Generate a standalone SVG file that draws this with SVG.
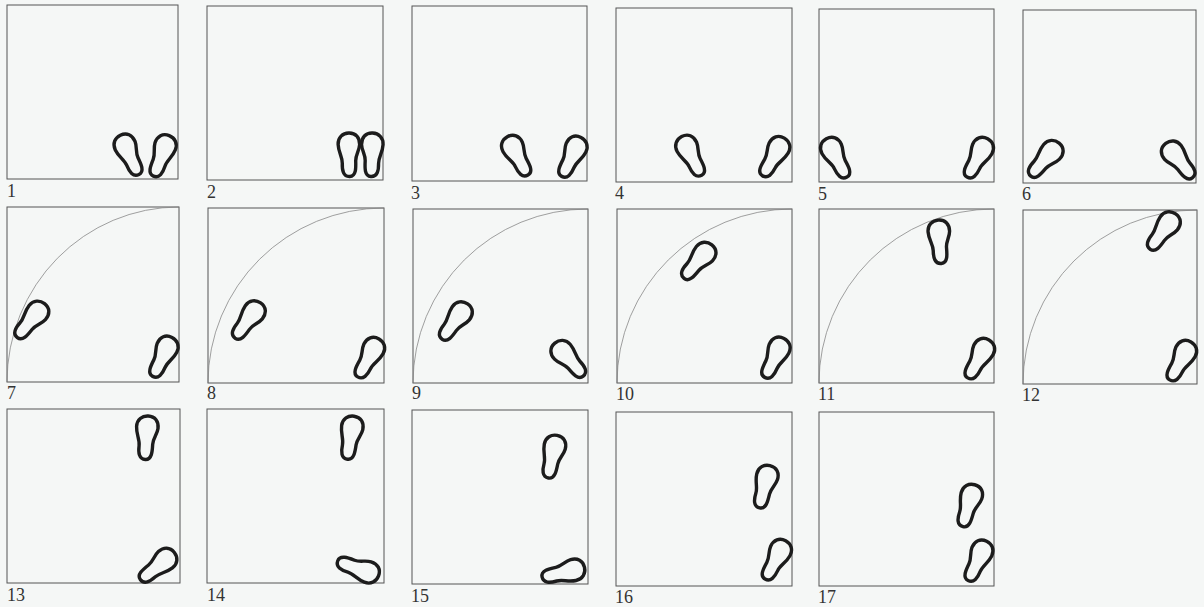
<svg xmlns="http://www.w3.org/2000/svg" xmlns:xlink="http://www.w3.org/1999/xlink" width="1204" height="607" viewBox="0 0 1204 607">
<style>
.bg{fill:#f5f7f6}
.box{fill:none;stroke:#555;stroke-width:1}
.arc{fill:none;stroke:#888;stroke-width:0.8}
.lbl{font-family:"Liberation Serif",serif;font-size:18px;fill:#333}
.ft{fill:none;stroke:#1c1c1c;stroke-width:3.4;stroke-linejoin:round}
</style>
<defs>
<path id="L" class="ft" d="M 0,-22 C 7,-22 11,-17 10.5,-10 C 10,-4 6,0 6,6 C 6,13 6,21.5 -0.5,21.5 C -7,21.5 -8,15 -7.5,8 C -7,2 -11,-3 -11,-11 C -11,-18 -6,-22 0,-22 Z"/>
</defs>
<rect class="bg" x="0" y="0" width="1204" height="607"/>

<g id="p1"><rect class="box" x="7" y="5" width="171" height="174"/>
<use href="#L" transform="translate(130,155) rotate(-26)"/>
<use href="#L" transform="translate(161,156) rotate(22) scale(-1,1)"/>
<text class="lbl" x="7" y="197">1</text></g>

<g id="p2"><rect class="box" x="207" y="6" width="176" height="174"/>
<use href="#L" transform="translate(349.5,155) rotate(-2)"/>
<use href="#L" transform="translate(371.5,155) rotate(3) scale(-1,1)"/>
<text class="lbl" x="207" y="198">2</text></g>

<g id="p3"><rect class="box" x="412" y="6" width="175" height="175"/>
<use href="#L" transform="translate(518,156) rotate(-29)"/>
<use href="#L" transform="translate(571,157) rotate(27) scale(-1,1)"/>
<text class="lbl" x="411" y="199">3</text></g>

<g id="p4"><rect class="box" x="616" y="8" width="176" height="174"/>
<use href="#L" transform="translate(692,156) rotate(-28)"/>
<use href="#L" transform="translate(773,157) rotate(31) scale(-1,1)"/>
<text class="lbl" x="615" y="199">4</text></g>

<g id="p5"><rect class="box" x="819" y="9" width="175" height="173"/>
<use href="#L" transform="translate(837,158) rotate(-29)"/>
<use href="#L" transform="translate(977,158) rotate(29) scale(-1,1)"/>
<text class="lbl" x="818" y="200">5</text></g>

<g id="p6"><rect class="box" x="1023" y="10" width="173" height="173"/>
<use href="#L" transform="translate(1045,160) rotate(40)"/>
<use href="#L" transform="translate(1179,161) rotate(-37) scale(-1,1)"/>
<text class="lbl" x="1022" y="200">6</text></g>

<g id="p7"><rect class="box" x="7" y="207" width="172" height="175"/>
<path class="arc" d="M 7,382 A 172 175 0 0 1 179,207"/>
<use href="#L" transform="translate(31,321) rotate(38)"/>
<use href="#L" transform="translate(162,357) rotate(27) scale(-1,1)"/>
<text class="lbl" x="7" y="399">7</text></g>

<g id="p8"><rect class="box" x="208" y="208" width="176" height="175"/>
<path class="arc" d="M 208,383 A 176 175 0 0 1 384,208"/>
<use href="#L" transform="translate(248,321) rotate(35)"/>
<use href="#L" transform="translate(368,358) rotate(30) scale(-1,1)"/>
<text class="lbl" x="207" y="399">8</text></g>

<g id="p9"><rect class="box" x="413" y="209" width="175" height="174"/>
<path class="arc" d="M 413,383 A 175 174 0 0 1 588,209"/>
<use href="#L" transform="translate(455,322) rotate(35)"/>
<use href="#L" transform="translate(569,360) rotate(-40) scale(-1,1)"/>
<text class="lbl" x="412" y="399">9</text></g>

<g id="p10"><rect class="box" x="617" y="209" width="175" height="174"/>
<path class="arc" d="M 617,383 A 175 174 0 0 1 792,209"/>
<use href="#L" transform="translate(698,262) rotate(39)"/>
<use href="#L" transform="translate(774,358) rotate(27) scale(-1,1)"/>
<text class="lbl" x="616" y="400">10</text></g>

<g id="p11"><rect class="box" x="819" y="209" width="175" height="174"/>
<path class="arc" d="M 819,383 A 175 174 0 0 1 994,209"/>
<use href="#L" transform="translate(940,242) rotate(-5)"/>
<use href="#L" transform="translate(978,359) rotate(30) scale(-1,1)"/>
<text class="lbl" x="818" y="400">11</text></g>

<g id="p12"><rect class="box" x="1023" y="210" width="174" height="174"/>
<path class="arc" d="M 1023,384 A 174 174 0 0 1 1197,210"/>
<use href="#L" transform="translate(1163,232) rotate(35)"/>
<use href="#L" transform="translate(1180,361) rotate(30) scale(-1,1)"/>
<text class="lbl" x="1022" y="401">12</text></g>

<g id="p13"><rect class="box" x="7" y="409" width="173" height="174"/>
<use href="#L" transform="translate(147,438) rotate(3)"/>
<use href="#L" transform="translate(157,566) rotate(52) scale(-1,1)"/>
<text class="lbl" x="7" y="601">13</text></g>

<g id="p14"><rect class="box" x="207" y="409" width="177" height="174"/>
<use href="#L" transform="translate(351,438) rotate(8)"/>
<use href="#L" transform="translate(358,568) rotate(111) scale(-1,1)"/>
<text class="lbl" x="207" y="601">14</text></g>

<g id="p15"><rect class="box" x="412" y="410" width="176" height="174"/>
<use href="#L" transform="translate(553,457) rotate(11)"/>
<use href="#L" transform="translate(563,572) rotate(78) scale(-1,1)"/>
<text class="lbl" x="411" y="602">15</text></g>

<g id="p16"><rect class="box" x="616" y="412" width="176" height="174"/>
<use href="#L" transform="translate(765,487) rotate(13)"/>
<use href="#L" transform="translate(775,560) rotate(29) scale(-1,1)"/>
<text class="lbl" x="615" y="603">16</text></g>

<g id="p17"><rect class="box" x="819" y="412" width="175" height="174"/>
<use href="#L" transform="translate(969,506) rotate(15)"/>
<use href="#L" transform="translate(977,561) rotate(26) scale(-1,1)"/>
<text class="lbl" x="818" y="603">17</text></g>
</svg>
